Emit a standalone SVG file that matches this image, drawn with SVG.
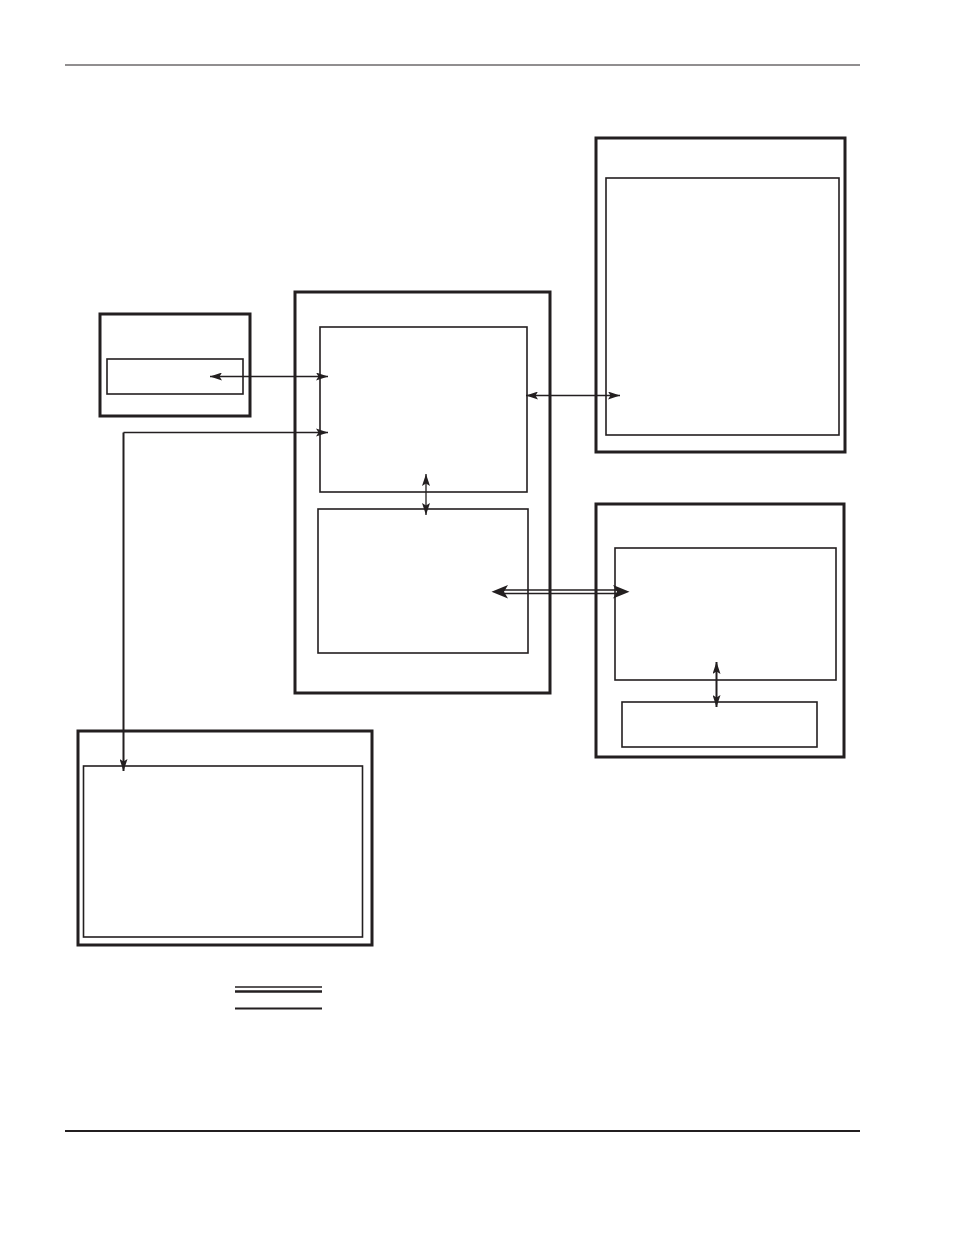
<svg xmlns="http://www.w3.org/2000/svg" width="954" height="1235" viewBox="0 0 954 1235">
<defs>
<style>
.outer{fill:none;stroke:#231f20;stroke-width:3}
.inner{fill:none;stroke:#231f20;stroke-width:1.6}
.conn{fill:none;stroke:#231f20;stroke-width:1.3}
.conn2{fill:none;stroke:#231f20;stroke-width:2}
.head{fill:#231f20;stroke:none}
.rule{stroke:#231f20;fill:none}
</style>
<marker id="ah" viewBox="0 0 12 8" refX="12" refY="4" markerWidth="12" markerHeight="8" markerUnits="userSpaceOnUse" orient="auto-start-reverse">
<path d="M0,0 L12,4 L0,8 L2.5,4 Z" fill="#231f20"/>
</marker>
</defs>
<rect width="954" height="1235" fill="#ffffff"/>
<line class="rule" x1="65" y1="65" x2="860" y2="65" stroke-width="1"/>
<line class="rule" x1="65" y1="1131" x2="860" y2="1131" stroke-width="2"/>

<g id="node-a">
<rect class="outer" x="100" y="314" width="150" height="102"/>
<rect class="inner" x="107" y="359" width="136" height="35"/>
</g>
<g id="node-center">
<rect class="outer" x="295" y="292" width="255" height="401"/>
<rect class="inner" x="320" y="327" width="207" height="165"/>
<rect class="inner" x="318" y="509" width="210" height="144"/>
</g>
<g id="node-top-right">
<rect class="outer" x="596" y="138" width="249" height="314"/>
<rect class="inner" x="606" y="178" width="233" height="257"/>
</g>
<g id="node-mid-right">
<rect class="outer" x="596" y="504" width="248" height="253"/>
<rect class="inner" x="615" y="548" width="221" height="132"/>
<rect class="inner" x="622" y="702" width="195" height="45"/>
</g>
<g id="node-bottom-left">
<rect class="outer" x="78" y="731" width="294" height="214"/>
<rect class="inner" x="83.5" y="766" width="279" height="171"/>
</g>

<g id="connectors">
<line class="conn" x1="210" y1="376.5" x2="328" y2="376.5" marker-start="url(#ah)" marker-end="url(#ah)"/>
<polyline class="conn" points="328,432.5 123.5,432.5"/>
<polyline class="conn2" points="123.5,432.5 123.5,771" marker-end="url(#ah)"/>
<path class="head" d="M328,432.5 L316,428.5 L318.5,432.5 L316,436.5 Z"/>
<line class="conn" x1="426" y1="474" x2="426" y2="515" marker-start="url(#ah)" marker-end="url(#ah)"/>
<line class="conn" x1="526" y1="395.5" x2="620" y2="395.5" marker-start="url(#ah)" marker-end="url(#ah)"/>
<line class="conn2" x1="716.5" y1="662" x2="716.5" y2="707" marker-start="url(#ah)" marker-end="url(#ah)"/>
<line class="conn" x1="500" y1="590" x2="620" y2="590"/>
<line class="conn" x1="500" y1="593.5" x2="620" y2="593.5"/>
<path class="head" d="M491.5,591.8 L508,585 L504,591.8 L508,598.5 Z"/>
<path class="head" d="M629.5,591.8 L613,585 L617,591.8 L613,598.5 Z"/>
</g>

<g id="legend">
<line class="rule" x1="235" y1="987" x2="322" y2="987" stroke-width="1.5"/>
<line class="rule" x1="235" y1="991.5" x2="322" y2="991.5" stroke-width="2.5"/>
<line class="rule" x1="235" y1="1008.5" x2="322" y2="1008.5" stroke-width="2"/>
</g>
</svg>
